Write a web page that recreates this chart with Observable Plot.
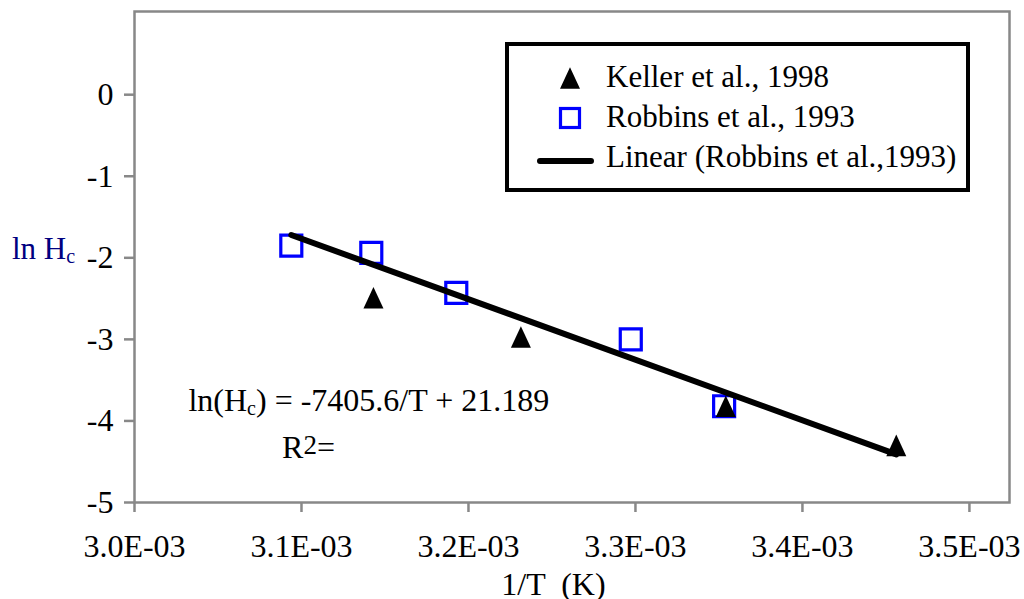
<!DOCTYPE html>
<html><head><meta charset="utf-8">
<script src="https://cdn.jsdelivr.net/npm/d3@7"></script>
<script src="https://cdn.jsdelivr.net/npm/@observablehq/plot@0.6"></script>
<style>
body{margin:0;background:#fff;}
#chart{position:relative;width:1024px;height:599px;overflow:hidden;}
</style></head><body><div id="chart"></div>
<script>
// Robbins et al., 1993 (open blue squares)
const robbinsX = [3.0939e-3, 3.1418e-3, 3.1927e-3, 3.2972e-3, 3.3531e-3];
const robbinsY = [-1.85, -1.94, -2.43, -3.00, -3.82];
// Keller et al., 1998 (black triangles)
const kellerX = [3.1431e-3, 3.2314e-3, 3.3541e-3, 3.4562e-3];
const kellerY = [-2.49, -2.97, -3.82, -4.30];
// Linear trend line (Robbins et al.,1993)
const fitX = [3.0939e-3, 3.4562e-3];
const fitY = [-1.72, -4.41];
// Axes
const xTicks = [0.0030, 0.0031, 0.0032, 0.0033, 0.0034, 0.0035];
const xTickLabels = ["3.0E-03", "3.1E-03", "3.2E-03", "3.3E-03", "3.4E-03", "3.5E-03"];
const yTicks = [-5, -4, -3, -2, -1, 0];
const yTickLabels = ["-5", "-4", "-3", "-2", "-1", "0"];
const seriesNames = ["Keller et al., 1998", "Robbins et al., 1993", "Linear (Robbins et al.,1993)"];
const xTitle = "1/T  (K)";

const FONT = "'Liberation Serif', 'Times New Roman', Times, serif";
const FS = 32;

const triangleSym = {draw(ctx, size) {
  const r = Math.sqrt(size / Math.PI);
  ctx.moveTo(0, -r * 1.08); ctx.lineTo(r, r * 1.08); ctx.lineTo(-r, r * 1.08); ctx.closePath();
}};
const squareSym = {draw(ctx, size) {
  const r = Math.sqrt(size / Math.PI);
  ctx.rect(-r, -r, 2 * r, 2 * r);
}};

const plot = Plot.plot({
  width: 1024, height: 599,
  marginLeft: 134, marginTop: 11, marginRight: 15, marginBottom: 97,
  style: {fontFamily: FONT, fontSize: FS + "px", background: "white", color: "black"},
  x: {domain: [0.003, 0.003524]},
  y: {domain: [-5, 1.02]},
  marks: [
    Plot.axisX(xTicks, {tickSize: 10, tickPadding: 22, stroke: "#888", strokeWidth: 2.5, fill: "black",
      fontSize: FS, tickFormat: d => xTickLabels[xTicks.indexOf(d)], label: null}),
    Plot.axisY(yTicks, {tickSize: 10, tickPadding: 11, stroke: "#888", strokeWidth: 2.5, fill: "black",
      fontSize: FS, tickFormat: d => yTickLabels[yTicks.indexOf(d)], label: null}),
    Plot.frame({stroke: "#888", strokeWidth: 2.5}),
    Plot.dot(robbinsX, {x: robbinsX, y: robbinsY, symbol: squareSym, r: 10.5, stroke: "#0000ff", strokeWidth: 3.2, fill: "none"}),
    Plot.line(fitX, {x: fitX, y: fitY, stroke: "black", strokeWidth: 6, strokeLinecap: "round"}),
    Plot.dot(kellerX, {x: kellerX, y: kellerY, symbol: triangleSym, r: 10, fill: "black", stroke: "none"})
  ]
});
document.getElementById("chart").appendChild(plot);

const svg = d3.select(plot);
const sx = plot.scale("x"), sy = plot.scale("y");

function txt(x, y, anchor, fs = FS) {
  return svg.append("text").attr("x", x).attr("y", y).attr("text-anchor", anchor)
    .attr("fill", "black").style("font-family", FONT).style("font-size", fs + "px");
}

// Y axis title
const yt = txt(12, sy.apply(-2) + 1.5, "start", 31).attr("fill", "#000080");
yt.append("tspan").text("ln H");
yt.append("tspan").attr("dy", 4).style("font-size", "20px").text("c");

// X axis title
txt(sx.apply(0.00325) + 2, 595, "middle").attr("xml:space", "preserve").style("white-space", "pre").text(xTitle);

// Equation annotation
const eq = txt(sx.apply(0.0030326), sy.apply(-3.888), "start");
eq.append("tspan").text("ln(H");
eq.append("tspan").attr("dy", 4).style("font-size", "20px").text("c");
eq.append("tspan").attr("dy", -4).text(") = -7405.6/T + 21.189");
const r2 = txt(sx.apply(0.0030887), sy.apply(-4.466), "start");
r2.append("tspan").text("R");
r2.append("tspan").attr("dy", -4).style("font-size", "27px").text("2");
r2.append("tspan").attr("dy", 4).text("=");

// Legend
const lg = svg.append("g");
lg.append("rect").attr("x", 507).attr("y", 44).attr("width", 461).attr("height", 146)
  .attr("fill", "white").attr("stroke", "black").attr("stroke-width", 4);
lg.append("path").attr("d", d3.symbol().type(triangleSym).size(Math.PI * 100)())
  .attr("transform", "translate(570,78)").attr("fill", "black");
lg.append("rect").attr("x", 560.5).attr("y", 108.5).attr("width", 19).attr("height", 19)
  .attr("fill", "none").attr("stroke", "#0000ff").attr("stroke-width", 3.2);
lg.append("line").attr("x1", 540).attr("x2", 591).attr("y1", 161).attr("y2", 161)
  .attr("stroke", "black").attr("stroke-width", 6).attr("stroke-linecap", "round");
const ly = [86.5, 127, 167];
seriesNames.forEach((n, i) => { txt(606, ly[i], "start", 31).text(n); });
</script></body></html>
